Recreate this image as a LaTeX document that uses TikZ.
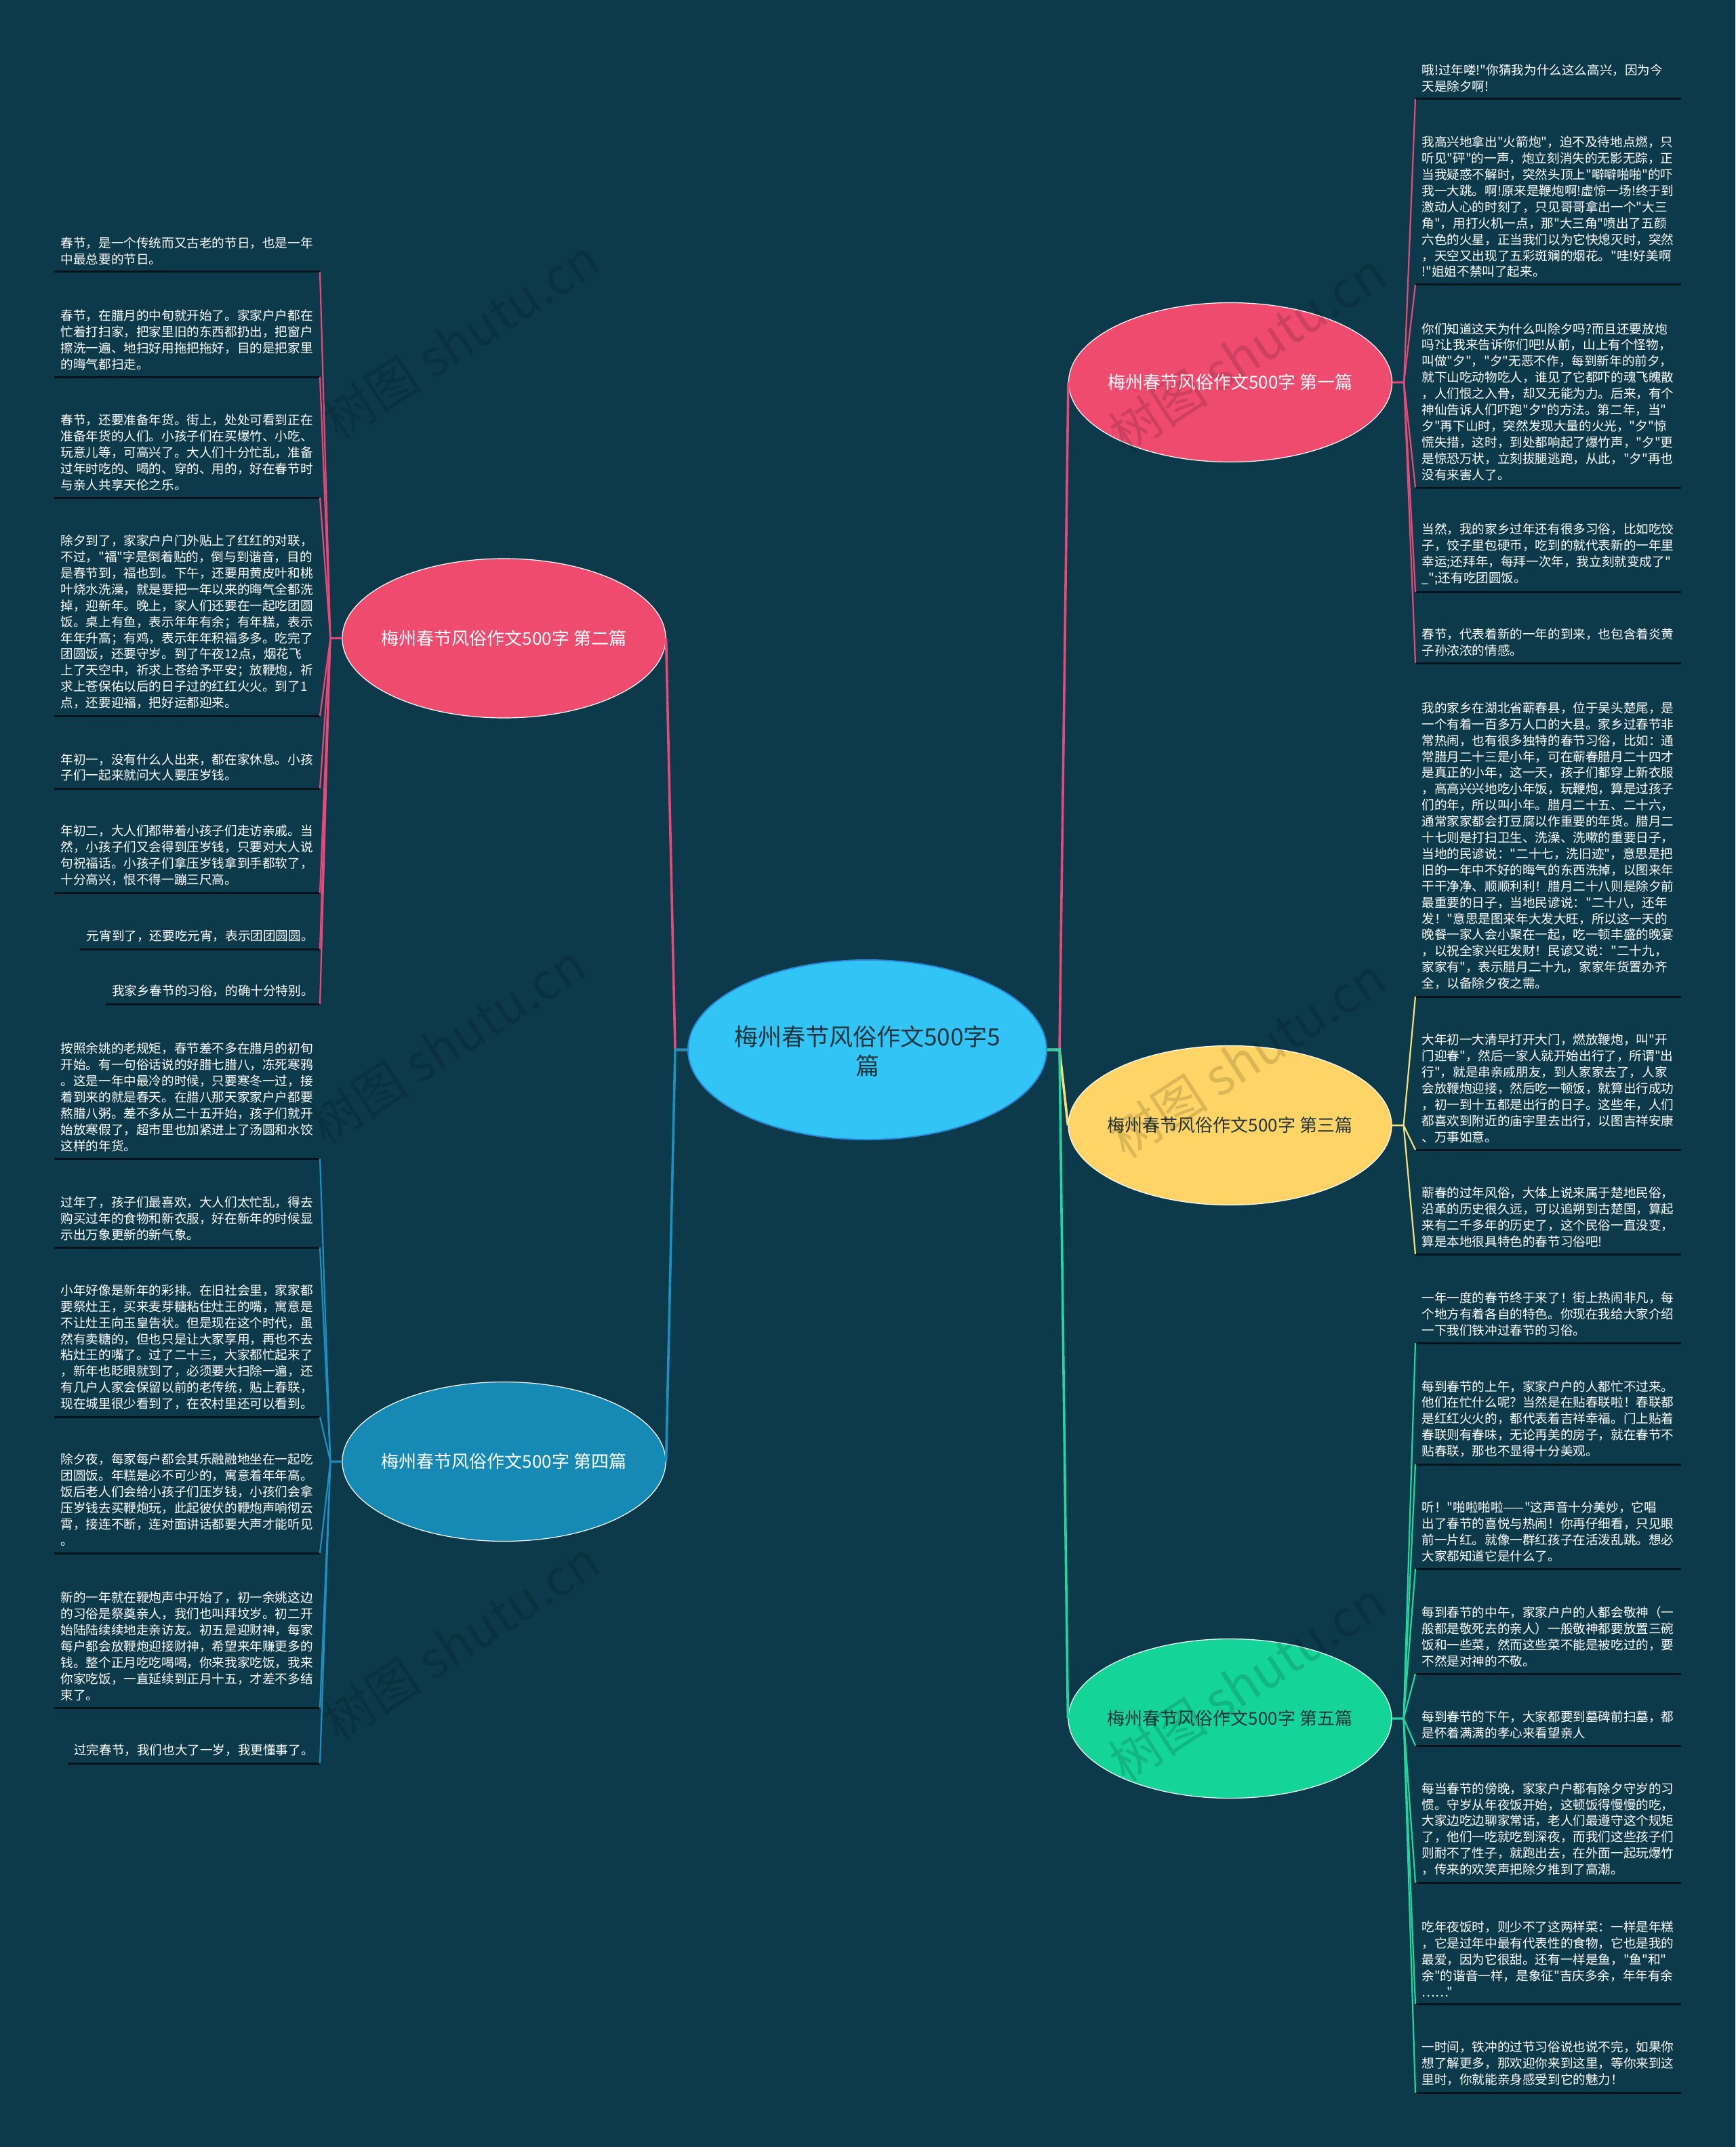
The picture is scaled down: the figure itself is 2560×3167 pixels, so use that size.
\documentclass[tikz,border=0pt]{standalone}
\usepackage{fontspec}
\newfontfamily\cjk{Noto Sans CJK SC}
\usetikzlibrary{shapes.geometric}
\definecolor{bgc}{HTML}{0C3A4B}
\definecolor{pinkc}{HTML}{EF4B6F}
\definecolor{pinkl}{HTML}{E8487A}
\definecolor{cblue}{HTML}{31C4F5}
\definecolor{cbord}{HTML}{2A86D6}
\definecolor{yel}{HTML}{FFD466}
\definecolor{yell}{HTML}{F3E07E}
\definecolor{blu}{HTML}{168AB4}
\definecolor{blul}{HTML}{1E90C0}
\definecolor{grn}{HTML}{15D497}
\definecolor{grnl}{HTML}{20D8A0}
\definecolor{ulc}{HTML}{06131A}
\definecolor{darktxt}{HTML}{22343C}
\newcommand\leaffont{\cjk\fontsize{9.3}{11.95}\selectfont}
\tikzset{
  leafl/.style={anchor=south east, text width=186.5pt, align=left, font=\leaffont, text=white, inner xsep=4.5pt, inner ysep=5pt},
  leafls/.style={anchor=south east, font=\leaffont, text=white, inner xsep=4.5pt, inner ysep=5pt},
  leafr/.style={anchor=south west, text width=186.5pt, align=left, font=\leaffont, text=white, inner xsep=4.5pt, inner ysep=5pt},
  uline/.style={draw=ulc, line width=1.5pt},
  branch/.style={ellipse, draw=white, line width=0.6pt, minimum width=238.5pt, minimum height=117.5pt, inner sep=0pt},
  btext/.style={font=\cjk\fontsize{13}{16}\selectfont},
  cpink/.style={draw=pinkl, line width=1.1pt},
  cyel/.style={draw=yell, line width=1.1pt},
  cblu/.style={draw=blul, line width=1.1pt},
  cgrn/.style={draw=grnl, line width=1.1pt},
  main/.style={line width=1.8pt},
  wm/.style={font=\cjk\fontsize{37}{40}\selectfont, text=black, opacity=0.14, rotate=33}
}
\newcommand\mkuline[1]{\draw[uline] (#1.south west) -- (#1.south east);}
\begin{document}
\begin{tikzpicture}[x=0.5pt,y=-0.5pt]
\fill[bgc] (0,0) rectangle (2560,3167);
\useasboundingbox (0,0) rectangle (2560,3167);

% central and branch nodes
\node[ellipse, fill=cblue, draw=cbord, line width=1pt, minimum width=264.5pt, minimum height=132.5pt, inner sep=0pt] (c) at (1279.5,1548.5) {};
\node[font=\cjk\fontsize{17.5}{21.5}\selectfont, text=darktxt, align=center] (ct) at (1279.5,1551) {梅州春节风俗作文500字5\\篇};

\node[branch, fill=pinkc] (b1) at (1815,564) {};
\node[btext, text=white] (b1t) at (b1) {梅州春节风俗作文500字 第一篇};
\node[branch, fill=pinkc] (b2) at (743.5,941.5) {};
\node[btext, text=white] (b2t) at (b2) {梅州春节风俗作文500字 第二篇};
\node[branch, fill=yel] (b3) at (1814.5,1660) {};
\node[btext, text=darktxt] (b3t) at (b3) {梅州春节风俗作文500字 第三篇};
\node[branch, fill=blu] (b4) at (743.5,2156) {};
\node[btext, text=white] (b4t) at (b4) {梅州春节风俗作文500字 第四篇};
\node[branch, fill=grn] (b5) at (1814.5,2535) {};
\node[btext, text=darktxt] (b5t) at (b5) {梅州春节风俗作文500字 第五篇};

% stubs
\coordinate (cl) at ([xshift=-9pt]c.west);
\coordinate (cr) at ([xshift=9pt]c.east);
\coordinate (s1) at ([xshift=8.5pt]b1.east);
\coordinate (s2) at ([xshift=-8.5pt]b2.west);
\coordinate (s3) at ([xshift=8.5pt]b3.east);
\coordinate (s4) at ([xshift=-8.5pt]b4.west);
\coordinate (s5) at ([xshift=8.5pt]b5.east);

% center connectors
\draw[cpink,main] (c.west) -- (cl) -- (b2.east);
\draw[cblu,main] (c.west) -- (cl) -- (b4.east);
\draw[cpink,main] (c.east) -- (cr) -- (b1.west);
\draw[cyel,main] (c.east) -- (cr) -- (b3.west);
\draw[cgrn,main] (c.east) -- (cr) -- (b5.west);

% ---------- branch 2 leaves ----------
\node[leafl] (lA) at (472,401) {春节，是一个传统而又古老的节日，也是一年\\中最总要的节日。};
\node[leafl] (lB) at (472,556) {春节，在腊月的中旬就开始了。家家户户都在\\忙着打扫家，把家里旧的东西都扔出，把窗户\\擦洗一遍、地扫好用拖把拖好，目的是把家里\\的晦气都扫走。};
\node[leafl] (lC) at (472,734) {春节，还要准备年货。街上，处处可看到正在\\准备年货的人们。小孩子们在买爆竹、小吃、\\玩意儿等，可高兴了。大人们十分忙乱，准备\\过年时吃的、喝的、穿的、用的，好在春节时\\与亲人共享天伦之乐。};
\node[leafl] (lD) at (472,1056) {除夕到了，家家户户门外贴上了红红的对联，\\不过，"福"字是倒着贴的，倒与到谐音，目的\\是春节到，福也到。下午，还要用黄皮叶和桃\\叶烧水洗澡，就是要把一年以来的晦气全都洗\\掉，迎新年。晚上，家人们还要在一起吃团圆\\饭。桌上有鱼，表示年年有余；有年糕，表示\\年年升高；有鸡，表示年年积福多多。吃完了\\团圆饭，还要守岁。到了午夜12点，烟花飞\\上了天空中，祈求上苍给予平安；放鞭炮，祈\\求上苍保佑以后的日子过的红红火火。到了1\\点，还要迎福，把好运都迎来。};
\node[leafl] (lE) at (472,1163) {年初一，没有什么人出来，都在家休息。小孩\\子们一起来就问大人要压岁钱。};
\node[leafl] (lF) at (472,1317) {年初二，大人们都带着小孩子们走访亲戚。当\\然，小孩子们又会得到压岁钱，只要对大人说\\句祝福话。小孩子们拿压岁钱拿到手都软了，\\十分高兴，恨不得一蹦三尺高。};
\node[leafls] (lG) at (472,1400) {元宵到了，还要吃元宵，表示团团圆圆。};
\node[leafls] (lH) at (472,1481) {我家乡春节的习俗，的确十分特别。};
\foreach \n in {lA,lB,lC,lD,lE,lF,lG,lH}{\mkuline{\n}}
\foreach \n in {lA,lB,lC,lD,lE,lF,lG,lH}{\draw[cpink] (b2.west) -- (s2) -- (\n.south east);}

% ---------- branch 4 leaves ----------
\node[leafl] (lI) at (472,1709) {按照余姚的老规矩，春节差不多在腊月的初旬\\开始。有一句俗话说的好腊七腊八，冻死寒鸦\\。这是一年中最冷的时候，只要寒冬一过，接\\着到来的就是春天。在腊八那天家家户户都要\\熬腊八粥。差不多从二十五开始，孩子们就开\\始放寒假了，超市里也加紧进上了汤圆和水饺\\这样的年货。};
\node[leafl] (lJ) at (472,1840) {过年了，孩子们最喜欢，大人们太忙乱，得去\\购买过年的食物和新衣服，好在新年的时候显\\示出万象更新的新气象。};
\node[leafl] (lK) at (472,2090) {小年好像是新年的彩排。在旧社会里，家家都\\要祭灶王，买来麦芽糖粘住灶王的嘴，寓意是\\不让灶王向玉皇告状。但是现在这个时代，虽\\然有卖糖的，但也只是让大家享用，再也不去\\粘灶王的嘴了。过了二十三，大家都忙起来了\\，新年也眨眼就到了，必须要大扫除一遍，还\\有几户人家会保留以前的老传统，贴上春联，\\现在城里很少看到了，在农村里还可以看到。};
\node[leafl] (lL) at (472,2291) {除夕夜，每家每户都会其乐融融地坐在一起吃\\团圆饭。年糕是必不可少的，寓意着年年高。\\饭后老人们会给小孩子们压岁钱，小孩们会拿\\压岁钱去买鞭炮玩，此起彼伏的鞭炮声响彻云\\霄，接连不断，连对面讲话都要大声才能听见\\。};
\node[leafl] (lM) at (472,2519) {新的一年就在鞭炮声中开始了，初一余姚这边\\的习俗是祭奠亲人，我们也叫拜坟岁。初二开\\始陆陆续续地走亲访友。初五是迎财神，每家\\每户都会放鞭炮迎接财神，希望来年赚更多的\\钱。整个正月吃吃喝喝，你来我家吃饭，我来\\你家吃饭，一直延续到正月十五，才差不多结\\束了。};
\node[leafls] (lN) at (472,2601) {过完春节，我们也大了一岁，我更懂事了。};
\foreach \n in {lI,lJ,lK,lL,lM,lN}{\mkuline{\n}}
\foreach \n in {lI,lJ,lK,lL,lM,lN}{\draw[cblu] (b4.west) -- (s4) -- (\n.south east);}

% ---------- branch 1 leaves ----------
\node[leafr] (r1) at (2088,146) {哦!过年喽!"你猜我为什么这么高兴，因为今\\天是除夕啊!};
\node[leafr] (r2) at (2088,420) {我高兴地拿出"火箭炮"，迫不及待地点燃，只\\听见"砰"的一声，炮立刻消失的无影无踪，正\\当我疑惑不解时，突然头顶上"噼噼啪啪"的吓\\我一大跳。啊!原来是鞭炮啊!虚惊一场!终于到\\激动人心的时刻了，只见哥哥拿出一个"大三\\角"，用打火机一点，那"大三角"喷出了五颜\\六色的火星，正当我们以为它快熄灭时，突然\\，天空又出现了五彩斑斓的烟花。"哇!好美啊\\!"姐姐不禁叫了起来。};
\node[leafr] (r3) at (2088,719) {你们知道这天为什么叫除夕吗?而且还要放炮\\吗?让我来告诉你们吧!从前，山上有个怪物，\\叫做"夕"，"夕"无恶不作，每到新年的前夕，\\就下山吃动物吃人，谁见了它都吓的魂飞魄散\\，人们恨之入骨，却又无能为力。后来，有个\\神仙告诉人们吓跑"夕"的方法。第二年，当"\\夕"再下山时，突然发现大量的火光，"夕"惊\\慌失措，这时，到处都响起了爆竹声，"夕"更\\是惊恐万状，立刻拔腿逃跑，从此，"夕"再也\\没有来害人了。};
\node[leafr] (r4) at (2088,873) {当然，我的家乡过年还有很多习俗，比如吃饺\\子，饺子里包硬币，吃到的就代表新的一年里\\幸运;还拜年，每拜一次年，我立刻就变成了"\\\_";还有吃团圆饭。};
\node[leafr] (r5) at (2088,978) {春节，代表着新的一年的到来，也包含着炎黄\\子孙浓浓的情感。};
\foreach \n in {r1,r2,r3,r4,r5}{\mkuline{\n}}
\foreach \n in {r1,r2,r3,r4,r5}{\draw[cpink] (b1.east) -- (s1) -- (\n.south west);}

% ---------- branch 3 leaves ----------
\node[leafr] (r6) at (2088,1470) {我的家乡在湖北省蕲春县，位于吴头楚尾，是\\一个有着一百多万人口的大县。家乡过春节非\\常热闹，也有很多独特的春节习俗，比如：通\\常腊月二十三是小年，可在蕲春腊月二十四才\\是真正的小年，这一天，孩子们都穿上新衣服\\，高高兴兴地吃小年饭，玩鞭炮，算是过孩子\\们的年，所以叫小年。腊月二十五、二十六，\\通常家家都会打豆腐以作重要的年货。腊月二\\十七则是打扫卫生、洗澡、洗嗽的重要日子，\\当地的民谚说："二十七，洗旧迹"，意思是把\\旧的一年中不好的晦气的东西洗掉，以图来年\\干干净净、顺顺利利！腊月二十八则是除夕前\\最重要的日子，当地民谚说："二十八，还年\\发！"意思是图来年大发大旺，所以这一天的\\晚餐一家人会小聚在一起，吃一顿丰盛的晚宴\\，以祝全家兴旺发财！民谚又说："二十九，\\家家有"，表示腊月二十九，家家年货置办齐\\全，以备除夕夜之需。};
\node[leafr] (r7) at (2088,1696) {大年初一大清早打开大门，燃放鞭炮，叫"开\\门迎春"，然后一家人就开始出行了，所谓"出\\行"，就是串亲戚朋友，到人家家去了，人家\\会放鞭炮迎接，然后吃一顿饭，就算出行成功\\，初一到十五都是出行的日子。这些年，人们\\都喜欢到附近的庙宇里去出行，以图吉祥安康\\、万事如意。};
\node[leafr] (r8) at (2088,1850) {蕲春的过年风俗，大体上说来属于楚地民俗，\\沿革的历史很久远，可以追朔到古楚国，算起\\来有二千多年的历史了，这个民俗一直没变，\\算是本地很具特色的春节习俗吧!};
\foreach \n in {r6,r7,r8}{\mkuline{\n}}
\foreach \n in {r6,r7,r8}{\draw[cyel] (b3.east) -- (s3) -- (\n.south west);}

% ---------- branch 5 leaves ----------
\node[leafr] (r9) at (2088,1981) {一年一度的春节终于来了！街上热闹非凡，每\\个地方有着各自的特色。你现在我给大家介绍\\一下我们铁冲过春节的习俗。};
\node[leafr] (r10) at (2088,2160) {每到春节的上午，家家户户的人都忙不过来。\\他们在忙什么呢？当然是在贴春联啦！春联都\\是红红火火的，都代表着吉祥幸福。门上贴着\\春联则有春味，无论再美的房子，就在春节不\\贴春联，那也不显得十分美观。};
\node[leafr] (r11) at (2088,2314) {听！"啪啦啪啦——"这声音十分美妙，它唱\\出了春节的喜悦与热闹！你再仔细看，只见眼\\前一片红。就像一群红孩子在活泼乱跳。想必\\大家都知道它是什么了。};
\node[leafr] (r12) at (2088,2469) {每到春节的中午，家家户户的人都会敬神（一\\般都是敬死去的亲人）一般敬神都要放置三碗\\饭和一些菜，然而这些菜不能是被吃过的，要\\不然是对神的不敬。};
\node[leafr] (r13) at (2088,2575) {每到春节的下午，大家都要到墓碑前扫墓，都\\是怀着满满的孝心来看望亲人};
\node[leafr] (r14) at (2088,2777) {每当春节的傍晚，家家户户都有除夕守岁的习\\惯。守岁从年夜饭开始，这顿饭得慢慢的吃，\\大家边吃边聊家常话，老人们最遵守这个规矩\\了，他们一吃就吃到深夜，而我们这些孩子们\\则耐不了性子，就跑出去，在外面一起玩爆竹\\，传来的欢笑声把除夕推到了高潮。};
\node[leafr] (r15) at (2088,2956) {吃年夜饭时，则少不了这两样菜：一样是年糕\\，它是过年中最有代表性的食物，它也是我的\\最爱，因为它很甜。还有一样是鱼，"鱼"和"\\余"的谐音一样，是象征"吉庆多余，年年有余\\……"};
\node[leafr] (r16) at (2088,3087) {一时间，铁冲的过节习俗说也说不完，如果你\\想了解更多，那欢迎你来到这里，等你来到这\\里时，你就能亲身感受到它的魅力！};
\foreach \n in {r9,r10,r11,r12,r13,r14,r15,r16}{\mkuline{\n}}
\foreach \n in {r9,r10,r11,r12,r13,r14,r15,r16}{\draw[cgrn] (b5.east) -- (s5) -- (\n.south west);}

% watermarks
\node[wm] (w1) at (680,500) {树图 shutu.cn};
\node[wm] (w2) at (1840,520) {树图 shutu.cn};
\node[wm] (w3) at (660,1540) {树图 shutu.cn};
\node[wm] (w4) at (1840,1560) {树图 shutu.cn};
\node[wm] (w5) at (680,2420) {树图 shutu.cn};
\node[wm] (w6) at (1840,2480) {树图 shutu.cn};
\end{tikzpicture}
\end{document}
